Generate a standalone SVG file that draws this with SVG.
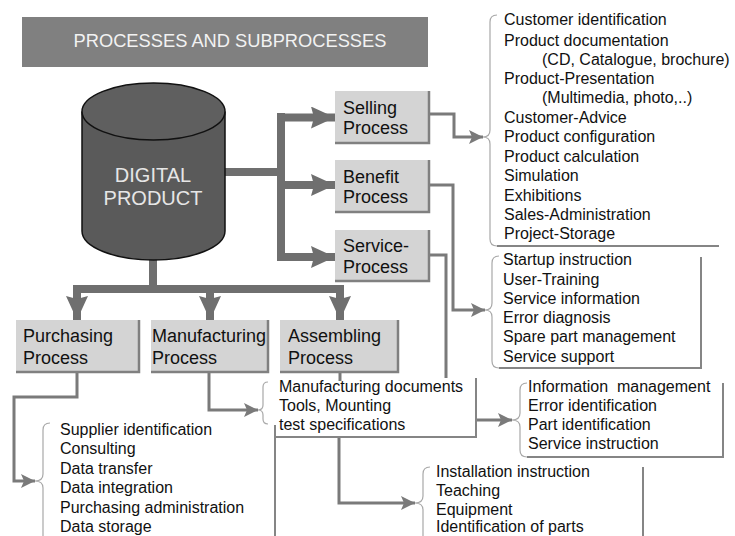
<svg xmlns="http://www.w3.org/2000/svg" width="735" height="536" viewBox="0 0 735 536">
<style>
text{font-family:"Liberation Sans",Arial,sans-serif;fill:#111}
.t{font-size:16px}
.b{font-size:18px}
.box{fill:#d4d4d4}
.sh{fill:none;stroke:#808080;stroke-width:2.5}
.thick{fill:none;stroke:#6f6f6f;stroke-width:8;stroke-linejoin:miter}
.thin{fill:none;stroke:#7a7a7a;stroke-width:3}
.brd{fill:none;stroke:#858585;stroke-width:2}
.br{fill:none;stroke:#a8a8a8;stroke-width:1.2}
</style>
<defs>
<marker id="ta" viewBox="0 0 14 14" refX="14" refY="7" markerWidth="14" markerHeight="14" markerUnits="userSpaceOnUse" orient="auto"><path d="M0,0 L14,7 L0,14 L3,7 z" fill="#7a7a7a"/></marker>
<marker id="ka" viewBox="0 0 24 22" refX="24" refY="11" markerWidth="24" markerHeight="22" markerUnits="userSpaceOnUse" orient="auto"><path d="M0,0 L24,11 L0,22 L3,11 z" fill="#6f6f6f"/></marker>
</defs>
<rect width="735" height="536" fill="#fff"/>

<g id="title">
<rect x="22" y="17" width="406" height="50" fill="#808080"/>
<text x="230" y="47" text-anchor="middle" style="font-size:18.3px;fill:#f2f2f2">PROCESSES AND SUBPROCESSES</text>
</g>

<g id="connectors">
<path class="thick" d="M225,172 H281 M281,113 V261" />
<path class="thick" d="M281,117.5 H335" marker-end="url(#ka)"/>
<path class="thick" d="M281,185 H335" marker-end="url(#ka)"/>
<path class="thick" d="M281,257 H335" marker-end="url(#ka)"/>
<path class="thick" d="M153,258 V289 M73,289 H344" />
<path class="thick" d="M77,285 V320" marker-end="url(#ka)"/>
<path class="thick" d="M210,285 V320" marker-end="url(#ka)"/>
<path class="thick" d="M340,285 V320" marker-end="url(#ka)"/>
<path class="thin" d="M429,114 H454 V137 H483" marker-end="url(#ta)"/>
<path class="thin" d="M429,185 H453 V310 H485" marker-end="url(#ta)"/>
<path class="thin" d="M429,255 H446 V378"/>
<path class="thin" d="M77,372 V397 H14 V481 H35" marker-end="url(#ta)"/>
<path class="thin" d="M209,372 V410 H258" marker-end="url(#ta)"/>
<path class="thin" d="M340,372 V381"/>
<path class="thin" d="M339,437 V503 H415" marker-end="url(#ta)"/>
<path class="thin" d="M476,420 H512" marker-end="url(#ta)"/>
</g>

<g id="digital-product">
<path d="M82,111.5 V231 A71.5,29 0 0 0 225,231 V111.5" fill="#5a5a5a" stroke="#111" stroke-width="1.5"/>
<ellipse cx="153.5" cy="111.5" rx="71.5" ry="28.5" fill="#5f5f5f" stroke="#111" stroke-width="1.5"/>
<text x="153" y="182" text-anchor="middle" style="font-size:20px;fill:#e6e6e6">DIGITAL</text>
<text x="153" y="205" text-anchor="middle" style="font-size:20px;fill:#e6e6e6">PRODUCT</text>
</g>

<g id="selling">
<rect class="box" x="335" y="91" width="94" height="52"/>
<path class="sh" d="M429,91 V143 H335"/>
<text class="b" x="343" y="114">Selling</text>
<text class="b" x="343" y="134">Process</text>
</g>
<g id="benefit">
<rect class="box" x="335" y="160" width="94" height="52"/>
<path class="sh" d="M429,160 V212 H335"/>
<text class="b" x="343" y="183">Benefit</text>
<text class="b" x="343" y="203">Process</text>
</g>
<g id="service">
<rect class="box" x="335" y="230" width="94" height="51"/>
<path class="sh" d="M429,230 V281 H335"/>
<text class="b" x="343" y="252">Service-</text>
<text class="b" x="343" y="273">Process</text>
</g>

<g id="purchasing">
<rect class="box" x="16" y="320" width="123" height="52"/>
<path class="sh" d="M139,320 V372 H16"/>
<text class="b" x="23" y="342">Purchasing</text>
<text class="b" x="23" y="364">Process</text>
</g>
<g id="manufacturing">
<rect class="box" x="151" y="320" width="117" height="52"/>
<path class="sh" d="M268,320 V372 H151"/>
<text class="b" x="152" y="342">Manufacturing</text>
<text class="b" x="152" y="364">Process</text>
</g>
<g id="assembling">
<rect class="box" x="280" y="320" width="118" height="52"/>
<path class="sh" d="M398,320 V372 H280"/>
<text class="b" x="288" y="342">Assembling</text>
<text class="b" x="288" y="364">Process</text>
</g>

<g id="selling-list">
<path class="br" d="M497,15 Q490,15 490,22 V130 Q490,137 483,137 Q490,137 490,144 V239 Q490,246 497,246"/>
<path class="brd" d="M497,246 H719"/>
<text class="t" x="504" y="25">Customer identification</text>
<text class="t" x="504" y="46">Product documentation</text>
<text class="t" x="542" y="65">(CD, Catalogue, brochure)</text>
<text class="t" x="504" y="84">Product-Presentation</text>
<text class="t" x="542" y="103">(Multimedia, photo,..)</text>
<text class="t" x="504" y="123">Customer-Advice</text>
<text class="t" x="504" y="142">Product configuration</text>
<text class="t" x="504" y="162">Product calculation</text>
<text class="t" x="504" y="181">Simulation</text>
<text class="t" x="504" y="201">Exhibitions</text>
<text class="t" x="504" y="220">Sales-Administration</text>
<text class="t" x="504" y="239">Project-Storage</text>
</g>

<g id="service-list">
<path class="br" d="M499,256 Q492,256 492,263 V303 Q492,310 485,310 Q492,310 492,317 V361 Q492,368 499,368"/>
<path class="brd" d="M499,368 H701 V257"/>
<text class="t" x="503" y="265">Startup instruction</text>
<text class="t" x="503" y="285">User-Training</text>
<text class="t" x="503" y="304">Service information</text>
<text class="t" x="503" y="323">Error diagnosis</text>
<text class="t" x="503" y="342">Spare part management</text>
<text class="t" x="503" y="362">Service support</text>
</g>

<g id="manufacturing-docs">
<path class="br" d="M268,382 Q263,382 263,387 V405 Q263,410 258,410 Q263,410 263,415 V419 Q263,424 268,424"/>
<path class="brd" d="M476,378 V437 H275 M275,425 V536"/>
<text class="t" x="279" y="392">Manufacturing documents</text>
<text class="t" x="279" y="411">Tools, Mounting</text>
<text class="t" x="279" y="430">test specifications</text>
</g>

<g id="info-list">
<path class="br" d="M527,383 Q520,383 520,390 V413 Q520,420 512,420 Q520,420 520,427 V450 Q520,457 527,457"/>
<path class="brd" d="M527,457 H723 V383"/>
<text class="t" x="528" y="392" xml:space="preserve">Information  management</text>
<text class="t" x="528" y="411">Error identification</text>
<text class="t" x="528" y="430">Part identification</text>
<text class="t" x="528" y="449">Service instruction</text>
</g>

<g id="installation-list">
<path class="br" d="M430,467 Q423,467 423,474 V496 Q423,503 415,503 Q423,503 423,510 V540"/>
<path class="brd" d="M643,467 V536"/>
<text class="t" x="436" y="477">Installation instruction</text>
<text class="t" x="436" y="496">Teaching</text>
<text class="t" x="436" y="515">Equipment</text>
<text class="t" x="436" y="532">Identification of parts</text>
</g>

<g id="supplier-list">
<path class="br" d="M50,423 Q43,423 43,430 V474 Q43,481 35,481 Q43,481 43,488 V540"/>
<text class="t" x="60" y="435">Supplier identification</text>
<text class="t" x="60" y="454">Consulting</text>
<text class="t" x="60" y="474">Data transfer</text>
<text class="t" x="60" y="493">Data integration</text>
<text class="t" x="60" y="513">Purchasing administration</text>
<text class="t" x="60" y="532">Data storage</text>
</g>
</svg>
